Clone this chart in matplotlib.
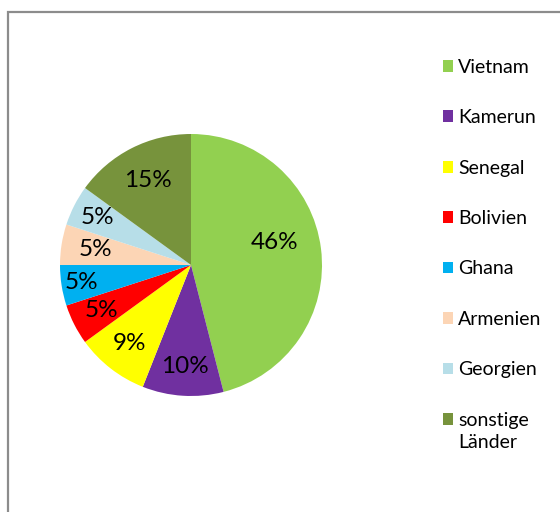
import matplotlib
matplotlib.use("Agg")
import matplotlib.pyplot as plt
from matplotlib.patches import Rectangle
import numpy as np

plt.rcParams['font.family'] = ['Lato', 'DejaVu Sans']

# Data
countries = ["Vietnam", "Kamerun", "Senegal", "Bolivien", "Ghana",
             "Armenien", "Georgien", "sonstige\nLänder"]
shares = [46, 10, 9, 5, 5, 5, 5, 15]
colors = ["#92D050", "#7030A0", "#FFFF00", "#FF0000", "#00B0F0",
          "#FCD5B5", "#B7DEE8", "#77933C"]

W, H = 560, 512
fig = plt.figure(figsize=(W / 100, H / 100), dpi=100)

# Chart border (runs off the right/bottom edge like the reference)
fig.patches.append(Rectangle((8 / W, -0.05), 1.1, (H - 12) / H + 0.05,
                             transform=fig.transFigure, fill=False,
                             edgecolor="#8c8c8c", linewidth=1.6))

cx, cy, r = 191, 265, 131
ax = fig.add_axes([(cx - r) / W, (H - cy - r) / H, 2 * r / W, 2 * r / H])
wedges, texts, autotexts = ax.pie(
    shares, colors=colors, startangle=90, counterclock=False,
    autopct=lambda p: f"{p:.0f}%", pctdistance=0.75, radius=1,
    textprops=dict(fontsize=17.5, color="black"))
ax.set_xlim(-1, 1)
ax.set_ylim(-1, 1)
ax.set_aspect("equal")

# nudge label placement to mimic the best-fit positions
dist = [0.66, 0.78, 0.76, 0.77, 0.85, 0.74, 0.80, 0.72]
shift = [8, 0, 0, 0, 0, 0, 0, 0]
for w, t, d, s in zip(wedges, autotexts, dist, shift):
    ang = np.deg2rad((w.theta1 + w.theta2) / 2 + s)
    t.set_position((d * np.cos(ang), d * np.sin(ang)))

leg = ax.legend(wedges, countries, loc="upper left",
                bbox_to_anchor=(433 / W, 1 - 49 / H), bbox_transform=fig.transFigure,
                frameon=False, fontsize=14, handlelength=0.55, handleheight=0.55,
                handletextpad=0.25, labelspacing=1.72, borderpad=0)
for t in leg.get_texts():
    t.set_linespacing(1.35)
# two-line entry: align the swatch with the first line, as Excel does
last = leg.legend_handles[-1]
last.set_y(last.get_y() + 9)

fig.savefig("out.png", dpi=100)
